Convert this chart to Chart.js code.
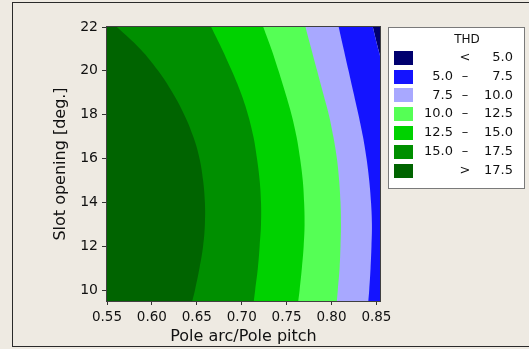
<!DOCTYPE html>
<html>
<head>
<meta charset="utf-8">
<script src="https://cdn.jsdelivr.net/npm/chart.js@4.4.1/dist/chart.umd.min.js"></script>
<style>
  html, body { margin: 0; padding: 0; background: #eeeae2; }
  #frame { position: absolute; left: 12px; top: 2px; width: 600px; height: 343px; border: 1px solid #2a2a2a; }
  #wrap { position: absolute; left: 0; top: 0; width: 529px; height: 349px; }
</style>
</head>
<body>
<div id="frame"></div>
<div id="wrap"><canvas id="contour" width="529" height="349"></canvas></div>
<script>
// rows of slot opening [deg.] at which the contour lines were read
const slotOpening = [22, 21, 20, 19, 18, 17, 16, 15, 14, 13, 12, 11, 10, 9.5];

// pole arc/pole pitch where THD crosses each level, one value per row above
const thd175 = [0.561, 0.587, 0.607, 0.623, 0.636, 0.646, 0.653, 0.657, 0.659, 0.659, 0.657, 0.653, 0.648, 0.645];
const thd150 = [0.666, 0.678, 0.689, 0.699, 0.707, 0.713, 0.717, 0.720, 0.7215, 0.7215, 0.720, 0.718, 0.715, 0.7135];
const thd125 = [0.724, 0.733, 0.741, 0.7485, 0.7555, 0.761, 0.765, 0.768, 0.7695, 0.770, 0.769, 0.767, 0.7645, 0.763];
const thd100 = [0.771, 0.7775, 0.784, 0.7905, 0.797, 0.802, 0.806, 0.8085, 0.810, 0.8105, 0.810, 0.809, 0.807, 0.806];
const thd075 = [0.808, 0.8135, 0.819, 0.8245, 0.830, 0.835, 0.839, 0.842, 0.844, 0.845, 0.8445, 0.8435, 0.842, 0.841];
const thd050 = [0.846, 0.852, 0.8585, 0.8645, 0.869, 0.873, 0.876, 0.878, 0.879, 0.8795, 0.879, 0.878, 0.876, 0.875];

const xTicks = [0.55, 0.60, 0.65, 0.70, 0.75, 0.80, 0.85];
const yTicks = [10, 12, 14, 16, 18, 20, 22];
const xMin = 0.55, xMax = 0.854;
const yMin = 9.5, yMax = 22;

// legend rows, lowest band first
const legendTitle = 'THD';
const legendFrom = ['', '5.0', '7.5', '10.0', '12.5', '15.0', ''];
const legendSep = ['<', '–', '–', '–', '–', '–', '>'];
const legendTo = ['5.0', '7.5', '10.0', '12.5', '15.0', '17.5', '17.5'];
const bandColors = ['#00006e', '#1414ff', '#a8a8ff', '#55ff55', '#00d200', '#008f00', '#006400'];

function band(xs, color, fillTo) {
    return {
        data: xs.map((x, i) => ({ x: x, y: slotOpening[i] })),
        backgroundColor: color,
        borderWidth: 0,
        pointRadius: 0,
        tension: 0.4,
        fill: { value: fillTo }
    };
}

const plotFrame = {
    id: 'plotFrame',
    afterDatasetsDraw(chart) {
        const a = chart.chartArea, ctx = chart.ctx;
        ctx.save();
        ctx.strokeStyle = '#404040';
        ctx.lineWidth = 1;
        ctx.strokeRect(Math.round(a.left) - 0.5, Math.round(a.top) - 0.5, Math.round(a.right - a.left) + 1, Math.round(a.bottom - a.top) + 1);
        ctx.restore();
    }
};

const thdLegend = {
    id: 'thdLegend',
    afterDraw(chart) {
        const ctx = chart.ctx;
        ctx.save();
        ctx.fillStyle = '#fff';
        ctx.fillRect(388, 27, 136, 161);
        ctx.strokeStyle = '#7a7a7a';
        ctx.lineWidth = 1;
        ctx.strokeRect(388.5, 27.5, 136, 161);
        ctx.fillStyle = '#111';
        ctx.textBaseline = 'middle';
        ctx.textAlign = 'center';
        ctx.font = '12px "DejaVu Sans"';
        ctx.fillText(legendTitle, 467, 40);
        ctx.font = '13px "DejaVu Sans"';
        for (let i = 0; i < bandColors.length; i++) {
            const cy = 57.7 + i * 18.8;
            ctx.fillStyle = bandColors[i];
            ctx.fillRect(394, Math.round(cy - 7), 19, 14);
            ctx.fillStyle = '#111';
            ctx.textAlign = 'right';
            ctx.fillText(legendFrom[i], 453, cy);
            ctx.textAlign = 'center';
            ctx.fillText(legendSep[i], 465, cy);
            ctx.textAlign = 'right';
            ctx.fillText(legendTo[i], 513, cy);
        }
        ctx.restore();
    }
};

Chart.defaults.font.family = '"DejaVu Sans", sans-serif';
Chart.defaults.color = '#111';

new Chart(document.getElementById('contour'), {
    type: 'line',
    data: {
        datasets: [
            band(thd175, bandColors[6], xMin),
            band(thd150, bandColors[5], xMin),
            band(thd125, bandColors[4], xMin),
            band(thd100, bandColors[3], xMin),
            band(thd075, bandColors[2], xMin),
            band(thd050, bandColors[1], xMin),
            band(thd050, bandColors[0], xMax)
        ]
    },
    options: {
        responsive: false,
        animation: false,
        indexAxis: 'y',
        layout: { padding: { top: 27, right: 149, left: 0, bottom: 0 } },
        scales: {
            x: {
                type: 'linear',
                position: 'bottom',
                min: xMin,
                max: xMax,
                afterBuildTicks: s => { s.ticks = xTicks.map(v => ({ value: v })); },
                afterFit: s => { s.height = 48; },
                ticks: { font: { size: 13.5 }, padding: 4, maxRotation: 0, callback: v => v.toFixed(2) },
                grid: { drawOnChartArea: false, tickLength: 4, color: '#333' },
                border: { color: '#404040' },
                title: { display: true, text: 'Pole arc/Pole pitch', font: { size: 16 }, padding: { top: 0, bottom: 3 } }
            },
            y: {
                type: 'linear',
                position: 'left',
                min: yMin,
                max: yMax,
                afterBuildTicks: s => { s.ticks = yTicks.map(v => ({ value: v })); },
                afterFit: s => { s.width = 107; },
                ticks: { font: { size: 14 }, padding: 4, callback: v => String(v) },
                grid: { drawOnChartArea: false, tickLength: 5, color: '#333' },
                border: { color: '#404040' },
                title: { display: true, text: 'Slot opening [deg.]', font: { size: 16 }, padding: { top: 51, bottom: 0 } }
            }
        },
        plugins: {
            legend: { display: false },
            tooltip: { enabled: false }
        }
    },
    plugins: [plotFrame, thdLegend]
});
</script>
</body>
</html>
